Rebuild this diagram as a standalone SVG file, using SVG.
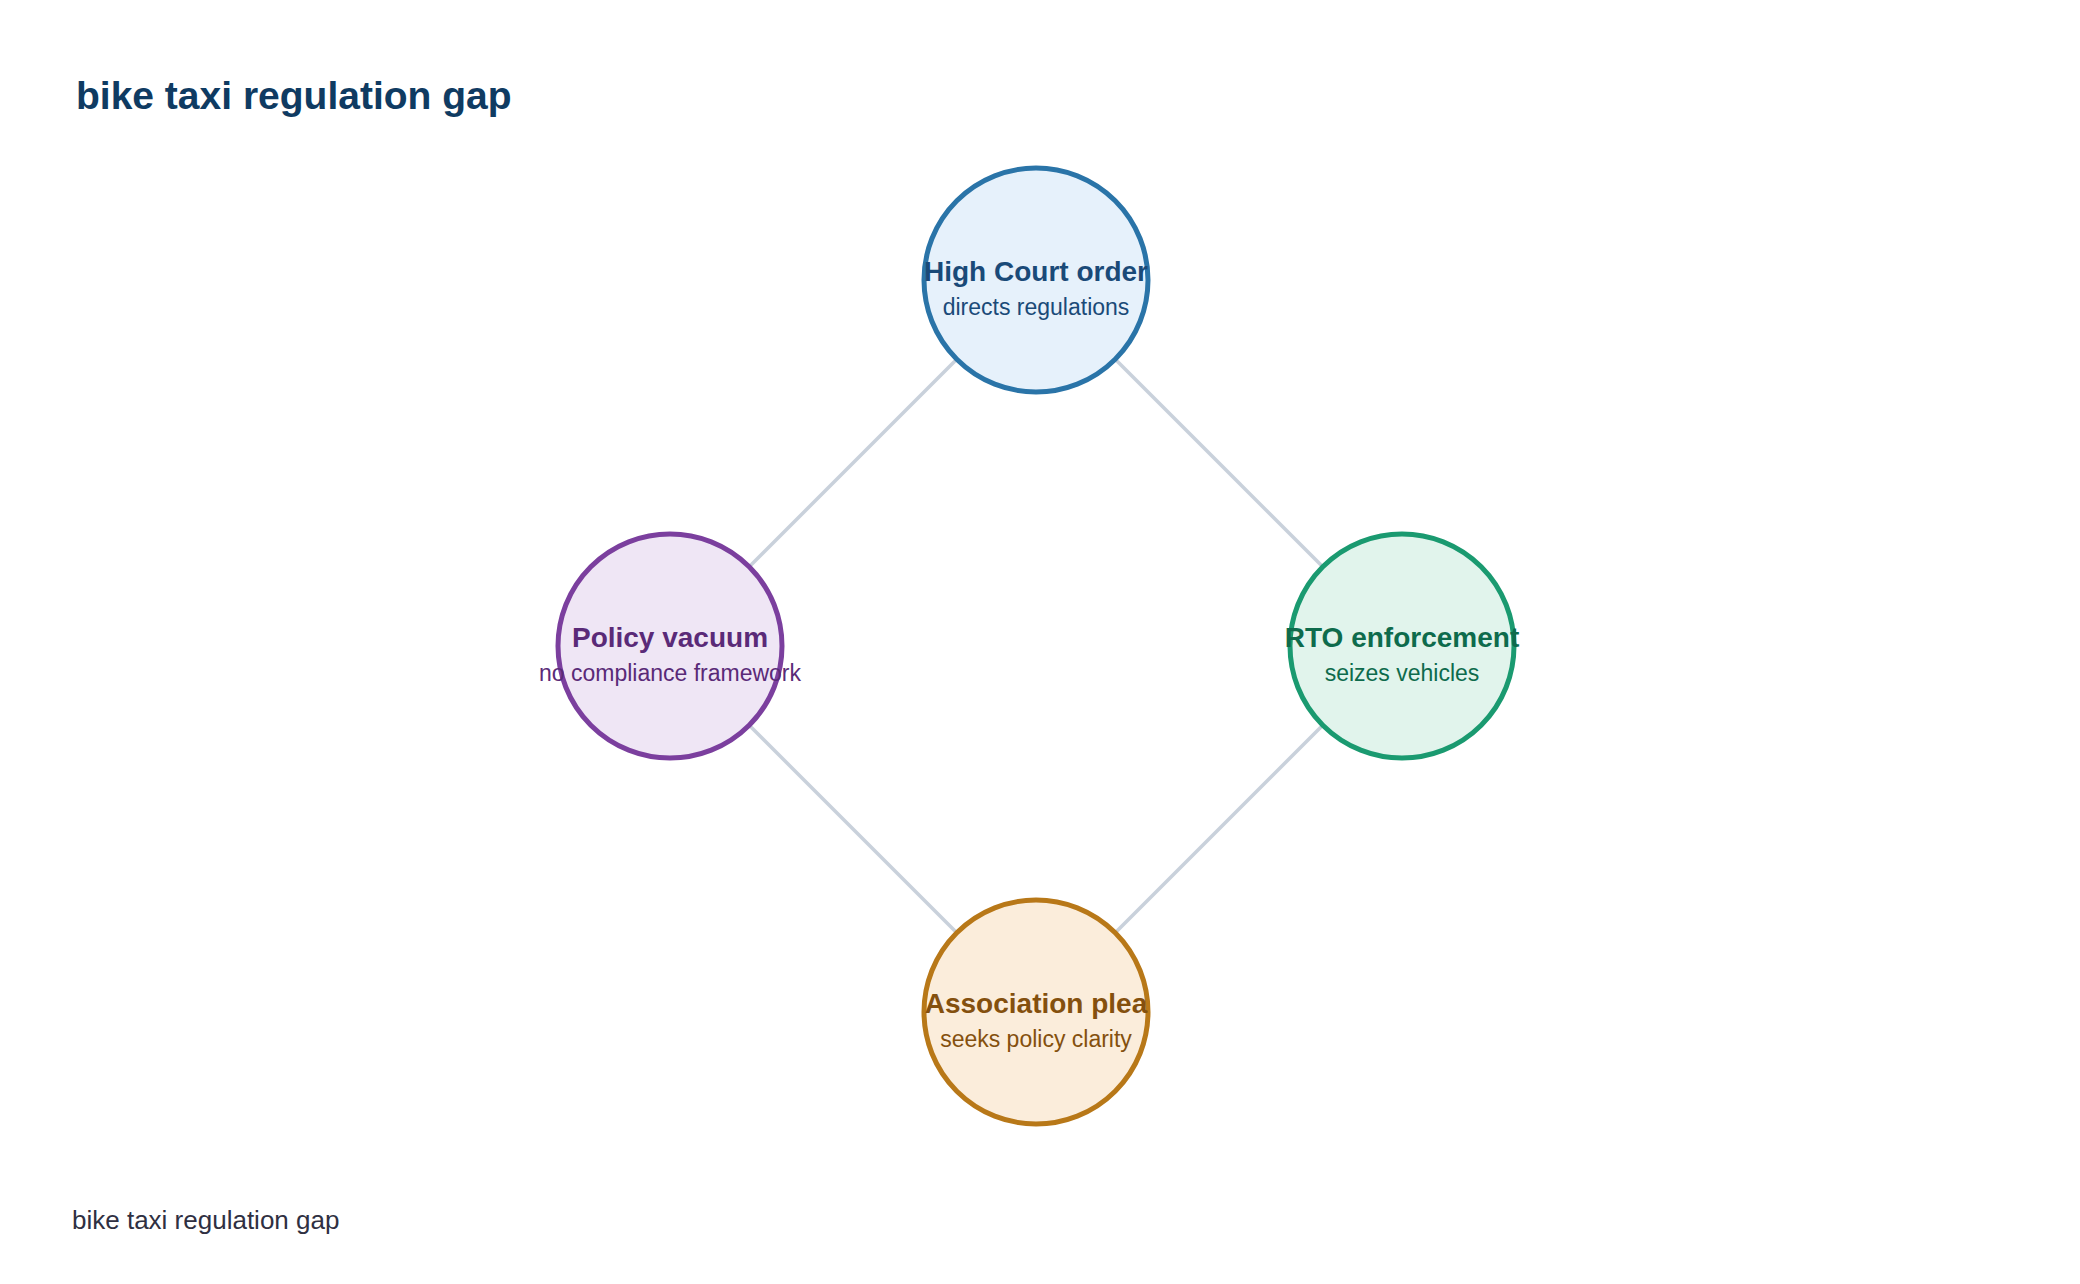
<svg xmlns="http://www.w3.org/2000/svg" width="2080" height="1284" viewBox="0 0 2080 1284">
<style>
.title{font-family:"Liberation Sans",Arial,sans-serif;font-weight:bold;font-size:39px;fill:#0f3b62}
.footer{font-family:"Liberation Sans",Arial,sans-serif;font-size:26px;fill:#2f3042}
.edge{stroke:#c9d1db;stroke-width:3.5;fill:none}
.node circle{stroke-width:5}
.lbl{font-family:"Liberation Sans",Arial,sans-serif;font-weight:bold;font-size:28px;text-anchor:middle}
.sub{font-family:"Liberation Sans",Arial,sans-serif;font-size:23px;text-anchor:middle}
</style>
<rect width="2080" height="1284" fill="#ffffff"/>
<text class="title" x="76" y="109">bike taxi regulation gap</text>
<g id="connectors">
<line class="edge" x1="1036" y1="280" x2="670" y2="646"/>
<line class="edge" x1="1036" y1="280" x2="1402" y2="646"/>
<line class="edge" x1="670" y1="646" x2="1036" y2="1012"/>
<line class="edge" x1="1402" y1="646" x2="1036" y2="1012"/>
</g>
<g id="node-high-court" class="node">
<circle cx="1036" cy="280" r="112" fill="#e6f1fb" stroke="#2a74a8"/>
<text class="lbl" x="1036" y="281" fill="#1a4a78">High Court order</text>
<text class="sub" x="1036" y="315" fill="#1a4a78">directs regulations</text>
</g>
<g id="node-policy-vacuum" class="node">
<circle cx="670" cy="646" r="112" fill="#efe6f5" stroke="#7b3f9e"/>
<text class="lbl" x="670" y="647" fill="#5a2a78">Policy vacuum</text>
<text class="sub" x="670" y="681" fill="#5a2a78">no compliance framework</text>
</g>
<g id="node-rto" class="node">
<circle cx="1402" cy="646" r="112" fill="#e1f4ec" stroke="#1a9a70"/>
<text class="lbl" x="1402" y="647" fill="#0e6b4c">RTO enforcement</text>
<text class="sub" x="1402" y="681" fill="#0e6b4c">seizes vehicles</text>
</g>
<g id="node-association" class="node">
<circle cx="1036" cy="1012" r="112" fill="#fbeddb" stroke="#b87818"/>
<text class="lbl" x="1036" y="1013" fill="#84500e">Association plea</text>
<text class="sub" x="1036" y="1047" fill="#84500e">seeks policy clarity</text>
</g>
<text class="footer" x="72" y="1229">bike taxi regulation gap</text>
</svg>
